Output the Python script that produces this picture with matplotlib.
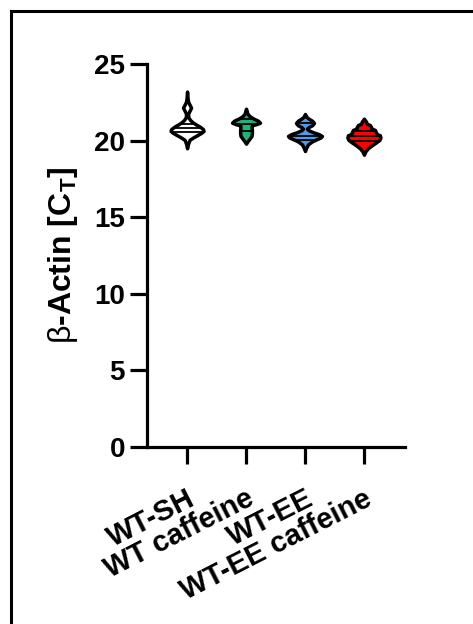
import numpy as np
import matplotlib
matplotlib.use("Agg")
import matplotlib.pyplot as plt
from matplotlib.lines import Line2D

plt.rcParams['font.family'] = ['Liberation Sans', 'DejaVu Sans']
plt.rcParams['mathtext.fontset'] = 'custom'
plt.rcParams['mathtext.rm'] = 'Liberation Sans:bold'
plt.rcParams['mathtext.sf'] = 'Liberation Sans'
plt.rcParams['mathtext.it'] = 'Liberation Sans:bold'
plt.rcParams['mathtext.bf'] = 'Liberation Sans:bold'

categories = ["WT-SH", "WT caffeine", "WT-EE", "WT-EE caffeine"]
colors = ["#FFFFFF", "#1DB47A", "#4F9BEA", "#FF0000"]

# violin outlines: Ct values and half-widths (x units)
sh_y = [19.5, 19.8, 20.05, 20.2, 20.35, 20.5, 20.63, 20.75, 20.9, 21.05, 21.2,
        21.35, 21.5, 21.65, 21.78, 21.95, 22.15, 22.35, 22.54, 22.8, 23.2]
sh_w = [0.0, 0.017, 0.042, 0.10, 0.17, 0.237, 0.28, 0.27, 0.22, 0.153, 0.093,
        0.051, 0.025, 0.017, 0.02, 0.042, 0.068, 0.042, 0.017, 0.008, 0.0]

caf_y = [19.8, 19.95, 20.13, 20.3, 20.5, 20.7, 20.9, 21.0, 21.07, 21.17, 21.3,
         21.45, 21.6, 21.75, 21.9, 22.08]
caf_w = [0.0, 0.025, 0.06, 0.093, 0.10, 0.10, 0.093, 0.10, 0.17, 0.237, 0.203,
         0.12, 0.06, 0.025, 0.014, 0.0]

ee_y = [19.32, 19.5, 19.75, 19.95, 20.1, 20.2, 20.3, 20.42, 20.55, 20.68, 20.78,
        20.88, 21.0, 21.15, 21.3, 21.42, 21.55, 21.74]
ee_w = [0.0, 0.017, 0.05, 0.12, 0.203, 0.263, 0.288, 0.237, 0.136, 0.06, 0.034,
        0.06, 0.12, 0.153, 0.12, 0.068, 0.025, 0.0]

eec_y = [19.08, 19.3, 19.5, 19.7, 19.9, 20.05, 20.2, 20.35, 20.42, 20.55, 20.7,
         20.78, 20.9, 21.02, 21.1, 21.25, 21.43]
eec_w = [0.0, 0.025, 0.068, 0.136, 0.212, 0.263, 0.28, 0.271, 0.22, 0.203, 0.186,
         0.127, 0.12, 0.10, 0.05, 0.034, 0.0]

# quartiles (Q1, median, Q3)
quartiles = [[20.54, 20.8, 21.07],
             [20.61, 21.1, 21.38],
             [20.05, 20.3, 21.15],
             [19.95, 20.3, 20.61]]

profiles = [(sh_y, sh_w), (caf_y, caf_w), (ee_y, ee_w), (eec_y, eec_w)]

fig = plt.figure(figsize=(4.73, 6.24), dpi=100)
ax = fig.add_axes([0.311, 0.2837, 0.545, 0.6137])

for i, ((yy, ww), col, qs) in enumerate(zip(profiles, colors, quartiles)):
    yy = np.array(yy)
    ww = np.array(ww)
    ax.fill_betweenx(yy, i - ww, i + ww, facecolor=col, edgecolor='black',
                     linewidth=2.5, joinstyle='round', zorder=3)
    for q in qs:
        hw = np.interp(q, yy, ww)
        ax.hlines(q, i - hw, i + hw, colors='black', linewidth=1.3, zorder=4)

ax.set_xlim(-0.678, 3.695)
ax.set_ylim(0, 25)
ax.set_yticks([0, 5, 10, 15, 20, 25])
ax.set_xticks(range(len(categories)))
ax.set_xticklabels(categories, rotation=27, ha='right', va='top',
                   rotation_mode='anchor', fontsize=21, fontweight='bold')
for lab in ax.get_yticklabels():
    lab.set_fontsize(20)
    lab.set_fontweight('bold')

for s in ['top', 'right']:
    ax.spines[s].set_visible(False)
for s in ['left', 'bottom']:
    ax.spines[s].set_linewidth(2.3)
ax.tick_params(axis='both', width=2.3, length=12)
ax.tick_params(axis='y', pad=4)
ax.tick_params(axis='x', pad=15)

ax.set_ylabel(r"$\mathsf{β}$-Actin [C$_{\mathrm{T}}$]", fontsize=23,
              fontweight='bold', labelpad=10)

# outer frame (top and left edges visible)
fig.add_artist(Line2D([10.5 / 473, 10.5 / 473], [0, 1 - 10.5 / 624],
                      transform=fig.transFigure, color='black', linewidth=2.2))
fig.add_artist(Line2D([10.5 / 473, 1], [1 - 10.5 / 624, 1 - 10.5 / 624],
                      transform=fig.transFigure, color='black', linewidth=2.2))

fig.savefig("out.png", dpi=100)
